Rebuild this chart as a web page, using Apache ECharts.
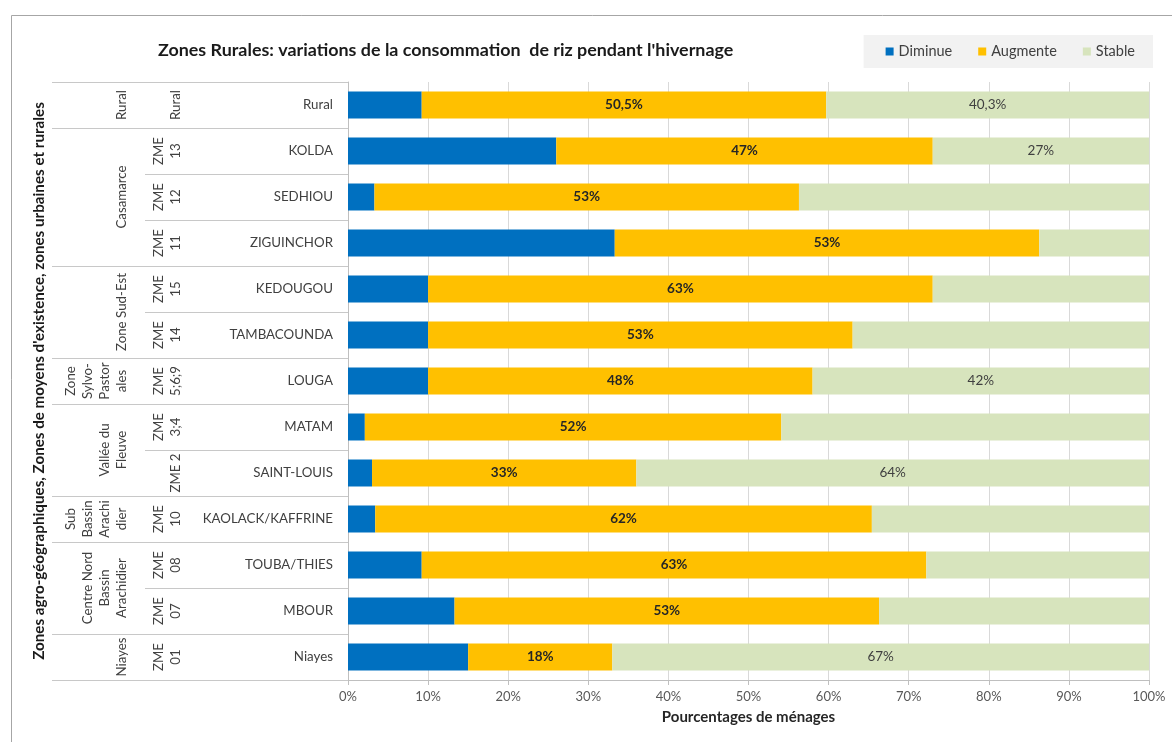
<!DOCTYPE html>
<html>
<head>
<meta charset="utf-8">
<title>Zones Rurales: variations de la consommation de riz pendant l'hivernage</title>
<script src="https://cdn.jsdelivr.net/npm/echarts@6/dist/echarts.min.js"></script>
<style>
  html, body { margin: 0; padding: 0; background: #ffffff; }
  #chart { width: 1172px; height: 742px; }
</style>
</head>
<body>
<div id="chart"></div>
<script>
// Categories, top to bottom (livelihood zones / departments)
const categories = ['Rural', 'KOLDA', 'SEDHIOU', 'ZIGUINCHOR', 'KEDOUGOU', 'TAMBACOUNDA',
  'LOUGA', 'MATAM', 'SAINT-LOUIS', 'KAOLACK/KAFFRINE', 'TOUBA/THIES', 'MBOUR', 'Niayes'];

// Second level: ZME codes, one per category
const zmeLabels = ['Rural', 'ZME\n13', 'ZME\n12', 'ZME\n11', 'ZME\n15', 'ZME\n14',
  'ZME\n5;6;9', 'ZME\n3;4', 'ZME 2', 'ZME\n10', 'ZME\n08', 'ZME\n07', 'ZME\n01'];

// Third level: agro-geographic zones and how many categories each one covers
const zoneNames = ['Rural', 'Casamarce', 'Zone Sud-Est', 'Zone\nSylvo-\nPastor\nales',
  'Vallée du\nFleuve', 'Sub\nBassin\nArachi\ndier', 'Centre Nord\nBassin\nArachidier', 'Niayes'];
const zoneSpans = [1, 3, 2, 1, 2, 1, 2, 1];

// Share of households (%)
const diminue  = [9.2, 26, 3.3, 33.3, 10, 10, 10, 2.1, 3, 3.4, 9.2, 13.3, 15];
const augmente = [50.5, 47, 53, 53, 63, 53, 48, 52, 33, 62, 63, 53, 18];
const stable   = [40.3, 27, 43.7, 13.7, 27, 37, 42, 45.9, 64, 34.6, 27.8, 33.7, 67];

// Categories whose "Stable" segment carries a value label
const stableLabelled = ['Rural', 'KOLDA', 'LOUGA', 'SAINT-LOUIS', 'Niayes'];

const xTicks = { min: 0, max: 100, interval: 10 };

const FONT = 'Lato, "Open Sans", sans-serif';
const fmt = v => String(v).replace('.', ',') + '%';

const chart = echarts.init(document.getElementById('chart'), null, { renderer: 'canvas' });

const option = {
  backgroundColor: '#ffffff',
  animation: false,
  textStyle: { fontFamily: FONT },
  title: {
    text: "Zones Rurales: variations de la consommation  de riz pendant l'hivernage",
    left: 153,
    top: 36,
    textStyle: { fontFamily: FONT, fontSize: 17.9, fontWeight: 'bold', color: '#1a1a1a' }
  },
  legend: {
    data: ['Diminue', 'Augmente', 'Stable'],
    right: 19,
    top: 35,
    backgroundColor: '#f2f2f2',
    padding: [9, 18, 9, 22],
    itemWidth: 8,
    itemHeight: 8,
    itemGap: 26,
    icon: 'rect',
    textStyle: { fontFamily: FONT, fontSize: 14.5, color: '#404040' }
  },
  grid: { left: 348, right: 23, top: 82, bottom: 62, containLabel: false },
  xAxis: {
    type: 'value',
    min: xTicks.min,
    max: xTicks.max,
    interval: xTicks.interval,
    name: 'Pourcentages de ménages',
    nameLocation: 'middle',
    nameGap: 30,
    nameTextStyle: { fontFamily: FONT, fontSize: 15, fontWeight: 'bold', color: '#262626' },
    axisLine: { show: true, lineStyle: { color: '#bfbfbf' } },
    axisTick: { show: true, length: 5, lineStyle: { color: '#bfbfbf' } },
    axisLabel: { formatter: '{value}%', margin: 10, fontFamily: FONT, fontSize: 13, color: '#595959' },
    splitLine: { show: true, lineStyle: { color: '#d9d9d9' } }
  },
  yAxis: {
    type: 'category',
    data: categories,
    inverse: true,
    name: "Zones agro-géographiques, Zones de moyens d'existence, zones urbaines et rurales",
    nameLocation: 'middle',
    nameRotate: 90,
    nameGap: 301,
    nameTextStyle: { fontFamily: FONT, fontSize: 15.2, fontWeight: 'bold', color: '#1a1a1a' },
    axisLine: { show: true, lineStyle: { color: '#bfbfbf' } },
    axisTick: { show: true, length: 203, lineStyle: { color: '#c8c8c8' } },
    axisLabel: { margin: 15, fontFamily: FONT, fontSize: 13.3, color: '#404040' },
    splitLine: { show: false }
  },
  series: [
    {
      name: 'Diminue',
      type: 'bar',
      stack: 'total',
      barWidth: 27,
      itemStyle: { color: '#0070C0' },
      data: diminue
    },
    {
      name: 'Augmente',
      type: 'bar',
      stack: 'total',
      barWidth: 27,
      itemStyle: { color: '#FFC000' },
      label: {
        show: true,
        position: 'inside',
        formatter: p => fmt(p.value),
        fontFamily: FONT,
        fontSize: 13.5,
        fontWeight: 'bold',
        color: '#262626'
      },
      data: augmente
    },
    {
      name: 'Stable',
      type: 'bar',
      stack: 'total',
      barWidth: 27,
      itemStyle: { color: '#D7E4BD' },
      label: {
        show: true,
        position: 'inside',
        formatter: p => fmt(p.value),
        fontFamily: FONT,
        fontSize: 13.5,
        color: '#404040'
      },
      data: stable.map((v, i) => ({
        value: v,
        label: { show: stableLabelled.indexOf(categories[i]) >= 0 }
      }))
    }
  ]
};

chart.setOption(option);

// Multi-level category headers placed from the category axis scale
function buildHeaders() {
  const yOf = i => chart.convertToPixel({ yAxisIndex: 0 }, categories[i]);
  const band = Math.abs(yOf(1) - yOf(0));
  const lineStyle = { stroke: '#c8c8c8', lineWidth: 1 };
  const labelFont = { fontFamily: FONT, fontSize: 13.3, fill: '#404040', lineHeight: 17 };
  const els = [];

  // outer frame
  els.push({
    type: 'rect',
    shape: { x: 11.5, y: 15.5, width: 1200, height: 800 },
    style: { fill: 'none', stroke: '#a6a6a6', lineWidth: 1 },
    silent: true
  });

  // ZME codes
  zmeLabels.forEach((t, i) => {
    els.push({
      type: 'text',
      x: 184,
      y: yOf(i),
      rotation: Math.PI / 2,
      style: Object.assign({ text: t, align: 'center', verticalAlign: 'bottom' }, labelFont),
      silent: true
    });
  });

  // zone groups and their boundary lines
  let start = 0;
  const topEdge = Math.round(yOf(0) - band / 2) + 0.5;
  els.push({ type: 'line', shape: { x1: 52, y1: topEdge, x2: 145, y2: topEdge }, style: lineStyle, silent: true });
  zoneNames.forEach((name, g) => {
    const end = start + zoneSpans[g] - 1;
    const cy = (yOf(start) + yOf(end)) / 2;
    els.push({
      type: 'text',
      x: 130,
      y: cy,
      rotation: Math.PI / 2,
      style: Object.assign({ text: name, align: 'center', verticalAlign: 'bottom' }, labelFont),
      silent: true
    });
    const by = Math.round(yOf(end) + band / 2) + 0.5;
    els.push({ type: 'line', shape: { x1: 52, y1: by, x2: 145, y2: by }, style: lineStyle, silent: true });
    start = end + 1;
  });

  chart.setOption({ graphic: els });
}

buildHeaders();
</script>
</body>
</html>
